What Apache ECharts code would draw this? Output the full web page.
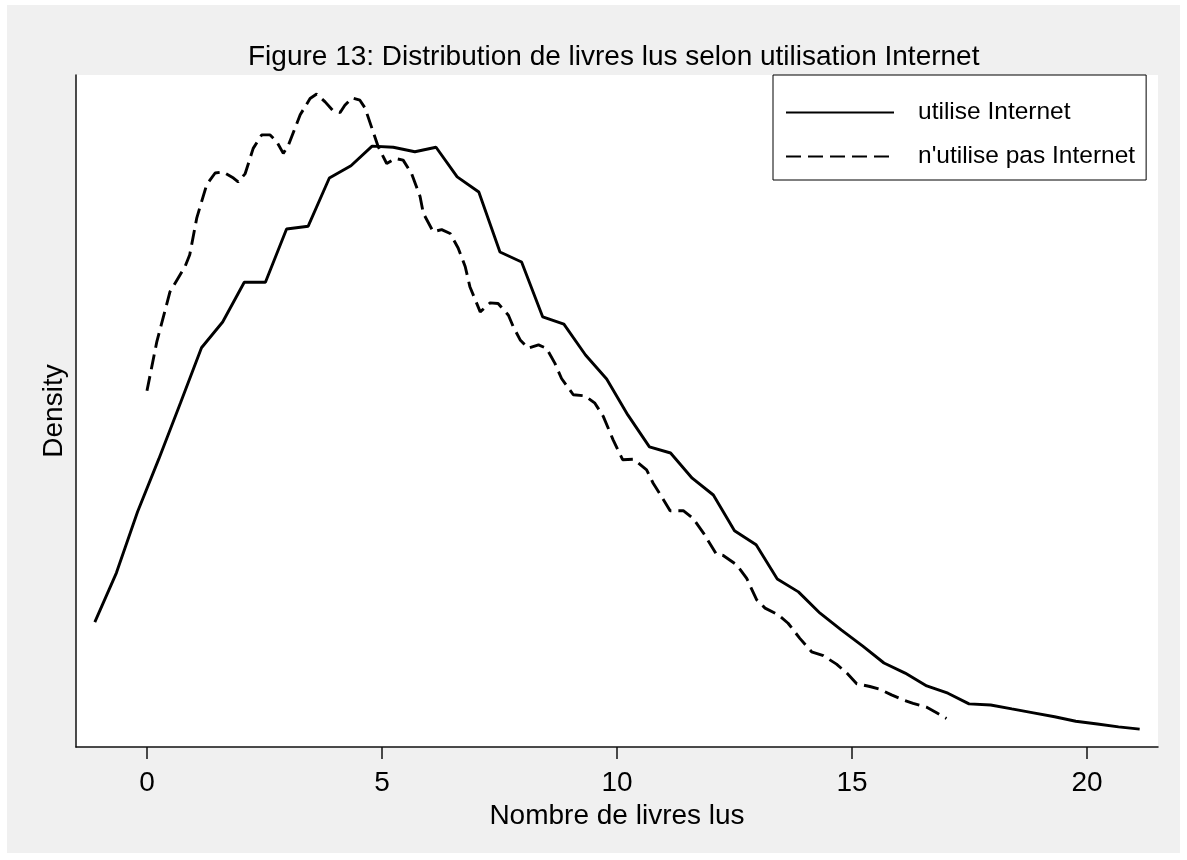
<!DOCTYPE html>
<html>
<head>
<meta charset="utf-8">
<script src="https://cdn.jsdelivr.net/npm/echarts@6/dist/echarts.min.js"></script>
<style>
  html, body { margin: 0; padding: 0; background: #ffffff; }
  #frame { position: absolute; left: 7px; top: 5px; width: 1173px; height: 848px; background: #f0f0f0; }
  #chart { position: absolute; left: 0; top: 0; width: 1187px; height: 860px; }
</style>
</head>
<body>
<div id="frame"></div>
<div id="chart"></div>
<script>
// kdensity, users of Internet (50 grid points)
const usersX = [-1.11, -0.65, -0.20, 0.25, 0.71, 1.16, 1.61, 2.07, 2.52, 2.97,
    3.43, 3.88, 4.34, 4.79, 5.24, 5.70, 6.15, 6.60, 7.06, 7.51,
    7.97, 8.42, 8.87, 9.33, 9.78, 10.23, 10.69, 11.14, 11.60, 12.05,
    12.50, 12.96, 13.41, 13.86, 14.32, 14.77, 15.23, 15.68, 16.13, 16.59,
    17.04, 17.49, 17.95, 18.40, 18.86, 19.31, 19.76, 20.22, 20.67, 21.12];
const usersY = [0.0223, 0.0311, 0.0420, 0.0514, 0.0614, 0.0713, 0.0759, 0.0830, 0.0830, 0.0925,
    0.0930, 0.1016, 0.1038, 0.1073, 0.1071, 0.1063, 0.1071, 0.1018, 0.0991, 0.0884,
    0.0866, 0.0768, 0.0755, 0.0700, 0.0657, 0.0593, 0.0536, 0.0525, 0.0480, 0.0450,
    0.0386, 0.0361, 0.0300, 0.0277, 0.0239, 0.0209, 0.0180, 0.0150, 0.0132, 0.0109,
    0.0096, 0.0077, 0.0075, 0.0068, 0.0061, 0.0054, 0.0046, 0.0041, 0.0036, 0.0032];

// kdensity, non users
const nonUsersX = [0.00, 0.21, 0.49, 0.81, 0.91, 1.06, 1.27, 1.45, 1.62, 1.84,
    1.94, 2.09, 2.26, 2.44, 2.62, 2.76, 2.90, 3.01, 3.26, 3.47,
    3.61, 3.79, 3.96, 4.11, 4.21, 4.36, 4.53, 4.64, 4.81, 4.92,
    5.10, 5.28, 5.45, 5.63, 5.81, 5.88, 6.09, 6.27, 6.45, 6.62,
    6.77, 6.87, 7.09, 7.30, 7.47, 7.69, 7.79, 7.94, 8.11, 8.33,
    8.50, 8.68, 8.82, 9.07, 9.32, 9.53, 9.71, 9.92, 10.12, 10.35,
    10.63, 10.77, 10.95, 11.13, 11.41, 11.62, 11.84, 12.11, 12.26, 12.55,
    12.76, 12.97, 13.15, 13.43, 13.64, 13.89, 14.14, 14.39, 14.67, 14.89,
    15.10, 15.38, 15.60, 15.84, 16.09, 16.30, 16.59, 16.80, 17.01];
const nonUsersY = [0.0636, 0.0724, 0.0813, 0.0858, 0.0879, 0.0945, 0.1004, 0.1025, 0.1027, 0.1016,
    0.1009, 0.1024, 0.1069, 0.1093, 0.1093, 0.1081, 0.1060, 0.1075, 0.1129, 0.1158,
    0.1166, 0.1152, 0.1136, 0.1133, 0.1146, 0.1159, 0.1155, 0.1141, 0.1099, 0.1072,
    0.1042, 0.1051, 0.1048, 0.1024, 0.0983, 0.0953, 0.0920, 0.0924, 0.0917, 0.0891,
    0.0858, 0.0822, 0.0777, 0.0793, 0.0792, 0.0771, 0.0751, 0.0727, 0.0712, 0.0718,
    0.0712, 0.0685, 0.0658, 0.0629, 0.0627, 0.0614, 0.0590, 0.0548, 0.0513, 0.0514,
    0.0495, 0.0471, 0.0447, 0.0422, 0.0422, 0.0408, 0.0382, 0.0345, 0.0342, 0.0325,
    0.0301, 0.0263, 0.0248, 0.0236, 0.0221, 0.0194, 0.0170, 0.0163, 0.0148, 0.0132,
    0.0113, 0.0108, 0.0103, 0.0093, 0.0084, 0.0078, 0.0071, 0.0061, 0.0051];

const xTicks = [0, 5, 10, 15, 20];
const seriesNames = ['utilise Internet', "n'utilise pas Internet"];

const FONT = "'Liberation Sans', Arial, sans-serif";

const zip = (xs, ys) => xs.map((x, i) => [x, ys[i]]);

const chart = echarts.init(document.getElementById('chart'), null, { renderer: 'canvas' });

chart.setOption({
    backgroundColor: 'transparent',
    animation: false,
    color: ['#000', '#000'],
    title: {
        text: 'Figure 13: Distribution de livres lus selon utilisation Internet',
        left: 243,
        top: 38,
        textStyle: { fontFamily: FONT, fontSize: 28, fontWeight: 'normal', color: '#000' }
    },
    legend: {
        data: seriesNames,
        orient: 'vertical',
        left: 773,
        top: 75,
        backgroundColor: '#fff',
        borderColor: '#000',
        borderWidth: 1,
        padding: [25, 11, 11, 12],
        itemWidth: 108,
        itemHeight: 14,
        itemGap: 19,
        itemStyle: { opacity: 0 },
        textStyle: { fontFamily: FONT, fontSize: 24.5, color: '#000', padding: [5, 0, 0, 19] }
    },
    grid: {
        left: 76,
        right: 29,
        top: 75,
        bottom: 113,
        show: true,
        backgroundColor: '#fff',
        borderWidth: 0
    },
    xAxis: {
        type: 'value',
        min: -1.51,
        max: 21.51,
        name: 'Nombre de livres lus',
        nameLocation: 'middle',
        nameGap: 47,
        nameTextStyle: { fontFamily: FONT, fontSize: 28, color: '#000' },
        axisLine: { onZero: false, lineStyle: { color: '#111', width: 1.5 } },
        axisTick: { show: true, customValues: xTicks, length: 12, lineStyle: { color: '#111', width: 1.5 } },
        axisLabel: { customValues: xTicks, margin: 22, fontFamily: FONT, fontSize: 28, color: '#000' },
        splitLine: { show: false }
    },
    yAxis: {
        type: 'value',
        min: 0,
        max: 0.12,
        name: 'Density',
        nameLocation: 'middle',
        nameGap: 8,
        nameTextStyle: { fontFamily: FONT, fontSize: 28, color: '#000' },
        axisLine: { show: true, onZero: false, lineStyle: { color: '#111', width: 1.5 } },
        axisTick: { show: false },
        axisLabel: { show: false },
        splitLine: { show: false }
    },
    series: [
        {
            name: seriesNames[0],
            type: 'line',
            data: zip(usersX, usersY),
            showSymbol: false,
            symbol: 'none',
            itemStyle: { color: '#000' },
            lineStyle: { color: '#000', width: 2.9 }
        },
        {
            name: seriesNames[1],
            type: 'line',
            data: zip(nonUsersX, nonUsersY),
            showSymbol: false,
            symbol: 'none',
            itemStyle: { color: '#000' },
            lineStyle: { color: '#000', width: 2.9, type: [15, 7] }
        }
    ]
});
</script>
</body>
</html>
